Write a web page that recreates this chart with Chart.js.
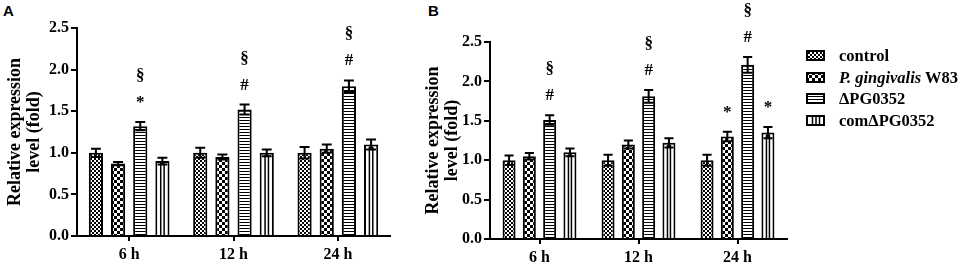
<!DOCTYPE html>
<html><head><meta charset="utf-8">
<script src="https://cdn.jsdelivr.net/npm/chart.js@4.4.1/dist/chart.umd.min.js"></script>
<style>
html,body{margin:0;padding:0;background:#fff;}
body{width:964px;height:262px;position:relative;overflow:hidden;}
.plab{position:absolute;font-family:"Liberation Sans",Arial,sans-serif;font-weight:bold;font-size:15px;line-height:15px;color:#000;}
canvas.chart{position:absolute;top:0;}
#legend{position:absolute;left:806px;top:45px;font-family:"Liberation Serif","Times New Roman",serif;font-weight:bold;font-size:16.5px;color:#000;}
#legend .row{height:21.5px;line-height:21.5px;white-space:nowrap;display:flex;align-items:center;}
#legend canvas{display:block;margin-right:14px;}
</style>
</head><body>
<div class="plab" style="left:3px;top:3px">A</div>
<div class="plab" style="left:428px;top:3px">B</div>
<canvas id="ca" class="chart" width="400" height="262" style="left:0px"></canvas>
<canvas id="cb" class="chart" width="380" height="262" style="left:413px"></canvas>
<div id="legend"></div>
<script>
// ---- data ----
const categories = ['6 h', '12 h', '24 h'];
const seriesNames = ['control', 'P. gingivalis W83', 'ΔPG0352', 'comΔPG0352'];
const italicPart = ['', 'P. gingivalis', '', ''];
const yTickValues = [0, 0.5, 1.0, 1.5, 2.0, 2.5];
const yTitle = ['Relative expression', 'level (fold)'];

// Panel A
const aControl = [1.00, 1.00, 1.00];
const aPg      = [0.87, 0.95, 1.05];
const aDel     = [1.32, 1.52, 1.80];
const aCom     = [0.90, 1.00, 1.10];
const aControlErr = [0.05, 0.06, 0.07];
const aPgErr      = [0.02, 0.03, 0.05];
const aDelErr     = [0.05, 0.06, 0.07];
const aComErr     = [0.04, 0.04, 0.06];
const aMarks = [[2, 0, ['*', '§']], [2, 1, ['#', '§']], [2, 2, ['#', '§']]];

// Panel B
const bControl = [1.00, 1.00, 1.00];
const bPg      = [1.05, 1.20, 1.30];
const bDel     = [1.51, 1.81, 2.21];
const bCom     = [1.10, 1.22, 1.35];
const bControlErr = [0.06, 0.07, 0.07];
const bPgErr      = [0.04, 0.05, 0.06];
const bDelErr     = [0.06, 0.08, 0.10];
const bComErr     = [0.05, 0.06, 0.07];
const bMarks = [[2, 0, ['#', '§']], [2, 1, ['#', '§']], [2, 2, ['#', '§']], [1, 2, ['*']], [3, 2, ['*']]];

// ---- patterns ----
function patternCanvas(kind) {
  const c = document.createElement('canvas');
  const g = c.getContext('2d');
  if (kind === 'fine') {
    c.width = 4; c.height = 4;
    g.fillStyle = '#fff'; g.fillRect(0, 0, 4, 4);
    g.fillStyle = '#000'; g.fillRect(0, 0, 2, 2); g.fillRect(2, 2, 2, 2);
  } else if (kind === 'checker') {
    c.width = 6; c.height = 6;
    g.fillStyle = '#fff'; g.fillRect(0, 0, 6, 6);
    g.fillStyle = '#000'; g.fillRect(0, 0, 3, 3); g.fillRect(3, 3, 3, 3);
  } else if (kind === 'hlines') {
    c.width = 4; c.height = 3;
    g.fillStyle = '#fff'; g.fillRect(0, 0, 4, 3);
    g.fillStyle = '#000'; g.fillRect(0, 0, 4, 1);
  } else {
    c.width = 4; c.height = 4;
    g.fillStyle = '#fff'; g.fillRect(0, 0, 4, 4);
  }
  return c;
}
const kinds = ['fine', 'checker', 'hlines', 'plain'];
const pctx = document.createElement('canvas').getContext('2d');
const patterns = kinds.map(k => pctx.createPattern(patternCanvas(k), 'repeat'));

// ---- plugins ----
const barDecor = {
  id: 'barDecor',
  afterDatasetsDraw(chart) {
    const ctx = chart.ctx, y = chart.scales.y;
    chart.data.datasets.forEach((ds, di) => {
      const meta = chart.getDatasetMeta(di);
      meta.data.forEach((bar, i) => {
        const left = bar.x - bar.width / 2;
        ctx.save();
        ctx.strokeStyle = '#000';
        if (ds.vlines) {
          ctx.lineWidth = 1.5;
          const inner = bar.width - 4;
          ctx.beginPath();
          for (let k = 1; k <= 2; k++) {
            const lx = left + 2 + inner * k / 3;
            ctx.moveTo(lx, bar.y + 2); ctx.lineTo(lx, bar.base);
          }
          ctx.stroke();
        }
        const v = ds.data[i], e = ds.errors[i];
        const yt = y.getPixelForValue(v + e), yb = y.getPixelForValue(v - e);
        const cw = bar.width * 0.35;
        ctx.lineWidth = 2;
        ctx.beginPath();
        ctx.moveTo(bar.x, yt); ctx.lineTo(bar.x, yb);
        ctx.moveTo(bar.x - cw, yt); ctx.lineTo(bar.x + cw, yt);
        ctx.moveTo(bar.x - cw, yb); ctx.lineTo(bar.x + cw, yb);
        ctx.stroke();
        ctx.restore();
      });
    });
    const marks = chart.options.plugins.barDecor.marks;
    ctx.save();
    ctx.fillStyle = '#000';
    ctx.font = 'bold 17px "Liberation Serif", serif';
    ctx.textAlign = 'center';
    ctx.textBaseline = 'alphabetic';
    marks.forEach(([di, ci, syms]) => {
      const ds = chart.data.datasets[di];
      const bar = chart.getDatasetMeta(di).data[ci];
      const yt = y.getPixelForValue(ds.data[ci] + ds.errors[ci]);
      syms.forEach((s, k) => ctx.fillText(s, bar.x, yt - 15 - 27 * k));
    });
    ctx.restore();
  }
};

function makeChart(id, vals, errs, marks, g) {
  const serif = '"Liberation Serif", "Times New Roman", serif';
  return new Chart(document.getElementById(id), {
    type: 'bar',
    data: {
      labels: categories,
      datasets: vals.map((d, i) => ({
        label: seriesNames[i], data: d, errors: errs[i],
        backgroundColor: patterns[i], borderColor: '#000', borderWidth: 2,
        vlines: i === 3,
        categoryPercentage: g.cat, barPercentage: 0.64
      }))
    },
    options: {
      responsive: false, animation: false,
      layout: { padding: { top: g.top, right: g.right, left: 0, bottom: 0 } },
      plugins: { legend: { display: false }, tooltip: { enabled: false }, barDecor: { marks } },
      scales: {
        x: {
          offset: true,
          grid: { offset: false, drawOnChartArea: false, drawTicks: true, tickLength: 5, color: '#000', lineWidth: 2 },
          border: { display: true, color: '#000', width: 2 },
          ticks: { color: '#000', font: { family: serif, weight: 'bold', size: 16 }, padding: 4 },
          afterFit: s => { s.height = g.xh; }
        },
        y: {
          min: 0, max: 2.5,
          afterBuildTicks: s => { s.ticks = yTickValues.map(v => ({ value: v })); },
          grid: { drawOnChartArea: false, drawTicks: true, tickLength: 6, color: '#000', lineWidth: 2 },
          border: { display: true, color: '#000', width: 2 },
          ticks: { color: '#000', font: { family: serif, weight: 'bold', size: 16 }, padding: 2,
                   callback: v => Number(v).toFixed(1) },
          title: { display: true, text: yTitle, color: '#000',
                   font: { family: serif, weight: 'bold', size: 18, lineHeight: 1.1 },
                   padding: { top: g.tpad, bottom: 0 } },
          afterFit: s => { s.width = g.yw; }
        }
      }
    },
    plugins: [barDecor]
  });
}

makeChart('ca', [aControl, aPg, aDel, aCom], [aControlErr, aPgErr, aDelErr, aComErr], aMarks,
  { top: 28, right: 10, xh: 26, yw: 77, tpad: 5, cat: 0.85 });
makeChart('cb', [bControl, bPg, bDel, bCom], [bControlErr, bPgErr, bDelErr, bComErr], bMarks,
  { top: 42, right: 6, xh: 23, yw: 77, tpad: 10, cat: 0.82 });

// ---- legend ----
const leg = document.getElementById('legend');
seriesNames.forEach((name, i) => {
  const row = document.createElement('div'); row.className = 'row';
  const sw = document.createElement('canvas'); sw.width = 19; sw.height = 11;
  const g = sw.getContext('2d');
  g.fillStyle = patterns[i]; g.fillRect(0, 0, 19, 11);
  g.strokeStyle = '#000';
  if (i === 3) { g.lineWidth = 1.5; g.beginPath(); [6.5, 10, 13.5].forEach(x => { g.moveTo(x, 0); g.lineTo(x, 11); }); g.stroke(); }
  g.lineWidth = 2; g.strokeRect(1, 1, 17, 9);
  row.appendChild(sw);
  const t = document.createElement('span');
  if (italicPart[i]) {
    const it = document.createElement('i'); it.textContent = italicPart[i];
    t.appendChild(it); t.appendChild(document.createTextNode(name.slice(italicPart[i].length)));
  } else t.textContent = name;
  row.appendChild(t);
  leg.appendChild(row);
});
</script>
</body></html>
